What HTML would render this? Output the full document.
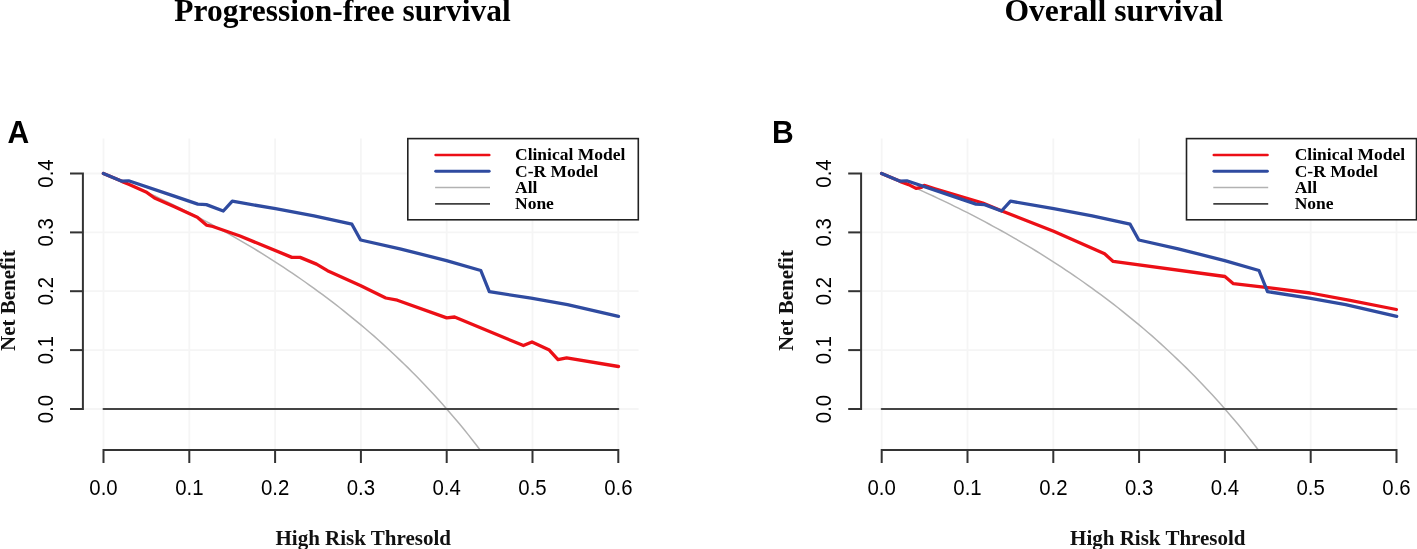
<!DOCTYPE html>
<html><head><meta charset="utf-8"><style>
html,body{margin:0;padding:0;background:#fff;}
body{width:1417px;height:549px;overflow:hidden;}
svg{display:block;}
text{-webkit-font-smoothing:antialiased;}
svg{will-change:transform;}
</style></head><body>
<svg width="1417" height="549" viewBox="0 0 1417 549">
<rect width="1417" height="549" fill="#fff"/>
<g stroke="#f5f5f5" stroke-width="1.8"><line x1="82.9" y1="409.0" x2="638.6" y2="409.0"/><line x1="82.9" y1="350.1" x2="638.6" y2="350.1"/><line x1="82.9" y1="291.2" x2="638.6" y2="291.2"/><line x1="82.9" y1="232.4" x2="638.6" y2="232.4"/><line x1="82.9" y1="173.5" x2="638.6" y2="173.5"/><line x1="103.5" y1="138.6" x2="103.5" y2="450.0"/><line x1="189.3" y1="138.6" x2="189.3" y2="450.0"/><line x1="275.1" y1="138.6" x2="275.1" y2="450.0"/><line x1="360.9" y1="138.6" x2="360.9" y2="450.0"/><line x1="446.7" y1="138.6" x2="446.7" y2="450.0"/><line x1="532.5" y1="138.6" x2="532.5" y2="450.0"/><line x1="618.3" y1="138.6" x2="618.3" y2="450.0"/></g>
<clipPath id="c0"><rect x="82.9" y="138.6" width="555.7" height="311.4"/></clipPath>
<g clip-path="url(#c0)" fill="none" stroke-linejoin="round" stroke-linecap="round">
<polyline points="103.5,173.5 107.8,175.3 112.1,177.1 116.4,178.9 120.7,180.7 125.0,182.6 129.2,184.4 133.5,186.3 137.8,188.2 142.1,190.1 146.4,192.1 150.7,194.1 155.0,196.0 159.3,198.1 163.6,200.1 167.8,202.1 172.1,204.2 176.4,206.3 180.7,208.4 185.0,210.6 189.3,212.7 193.6,214.9 197.9,217.2 202.2,219.4 206.5,221.7 210.8,224.0 215.0,226.3 219.3,228.6 223.6,231.0 227.9,233.4 232.2,235.8 236.5,238.3 240.8,240.8 245.1,243.3 249.4,245.9 253.7,248.4 257.9,251.0 262.2,253.7 266.5,256.4 270.8,259.1 275.1,261.8 279.4,264.6 283.7,267.4 288.0,270.3 292.3,273.1 296.6,276.1 300.8,279.0 305.1,282.0 309.4,285.1 313.7,288.1 318.0,291.3 322.3,294.4 326.6,297.6 330.9,300.9 335.2,304.2 339.5,307.5 343.7,310.9 348.0,314.3 352.3,317.8 356.6,321.3 360.9,324.9 365.2,328.5 369.5,332.2 373.8,335.9 378.1,339.7 382.4,343.6 386.6,347.5 390.9,351.5 395.2,355.5 399.5,359.6 403.8,363.7 408.1,367.9 412.4,372.2 416.7,376.5 421.0,381.0 425.3,385.5 429.5,390.0 433.8,394.6 438.1,399.3 442.4,404.1 446.7,409.0 451.0,413.9 455.3,419.0 459.6,424.1 463.9,429.3 468.2,434.6 472.4,440.0 476.7,445.5 481.0,451.1" stroke="#b2b2b2" stroke-width="1.5"/>
<line x1="103.5" y1="409.0" x2="618.3" y2="409.0" stroke="#444" stroke-width="2"/>
<polyline points="103.4,173.5 121.3,181.1 122.3,181.6 128.7,184.2 146.0,191.9 154.5,198.0 175.0,206.9 197.3,217.3 206.4,225.1 212.8,226.5 240.0,236.0 291.9,257.4 300.1,257.4 316.5,264.1 327.5,270.7 360.3,285.6 385.8,298.0 397.3,300.2 446.7,317.9 454.6,317.0 523.4,345.6 532.0,341.9 549.3,350.1 558.0,359.6 566.6,357.9 618.5,366.5" stroke="#ec0f16" stroke-width="3.3"/>
<polyline points="103.4,173.5 121.3,181.1 128.6,180.8 175.0,196.4 197.8,204.1 206.4,204.6 223.3,211.0 232.3,201.2 275.5,208.7 314.0,215.9 351.9,224.2 360.6,240.0 400.0,248.8 446.5,260.6 480.8,270.5 489.3,291.6 531.1,298.2 567.5,304.6 618.5,316.4" stroke="#2f4ba0" stroke-width="3.3"/>
</g>
<g stroke="#333" stroke-width="2" fill="none" stroke-linecap="butt">
<polyline points="70.0,173.5 82.9,173.5 82.9,409.0 70.0,409.0"/>
<line x1="70.0" y1="350.1" x2="82.9" y2="350.1"/>
<line x1="70.0" y1="291.2" x2="82.9" y2="291.2"/>
<line x1="70.0" y1="232.4" x2="82.9" y2="232.4"/>
<polyline points="103.5,463 103.5,450.0 618.3,450.0 618.3,463"/>
<line x1="189.3" y1="450.0" x2="189.3" y2="463"/>
<line x1="275.1" y1="450.0" x2="275.1" y2="463"/>
<line x1="360.9" y1="450.0" x2="360.9" y2="463"/>
<line x1="446.7" y1="450.0" x2="446.7" y2="463"/>
<line x1="532.5" y1="450.0" x2="532.5" y2="463"/>
</g>
<g font-family="Liberation Sans, sans-serif" font-size="23" fill="#000" text-anchor="middle">
<text transform="translate(103.5,495.2) scale(0.887,1)">0.0</text>
<text transform="translate(189.3,495.2) scale(0.887,1)">0.1</text>
<text transform="translate(275.1,495.2) scale(0.887,1)">0.2</text>
<text transform="translate(360.9,495.2) scale(0.887,1)">0.3</text>
<text transform="translate(446.7,495.2) scale(0.887,1)">0.4</text>
<text transform="translate(532.5,495.2) scale(0.887,1)">0.5</text>
<text transform="translate(618.3,495.2) scale(0.887,1)">0.6</text>
<text transform="translate(52.8,409.0) rotate(-90) scale(0.887,1)">0.0</text>
<text transform="translate(52.8,350.1) rotate(-90) scale(0.887,1)">0.1</text>
<text transform="translate(52.8,291.2) rotate(-90) scale(0.887,1)">0.2</text>
<text transform="translate(52.8,232.4) rotate(-90) scale(0.887,1)">0.3</text>
<text transform="translate(52.8,173.5) rotate(-90) scale(0.887,1)">0.4</text>
</g>
<g font-family="Liberation Serif, serif" font-weight="bold" font-size="21" fill="#111">
<text x="275.5" y="544.5">High Risk Thresold</text>
<text transform="translate(14.8,351.0) rotate(-90)">Net Benefit</text>
</g>
<text x="174.3" y="20.8" font-family="Liberation Serif, serif" font-weight="bold" font-size="31.5" fill="#000" textLength="336.5" lengthAdjust="spacingAndGlyphs">Progression-free survival</text>
<text transform="translate(7.5,142.5) scale(0.955,1)" font-family="Liberation Sans, sans-serif" font-weight="bold" font-size="31.5" fill="#000">A</text>
<rect x="407.8" y="138.6" width="230.5" height="81.2" fill="#fff" stroke="#222" stroke-width="1.6"/>
<line x1="435.6" y1="155" x2="489.3" y2="155" stroke="#ec0f16" stroke-width="2.6" stroke-linecap="round"/>
<line x1="435.7" y1="171.2" x2="489.2" y2="171.2" stroke="#2f4ba0" stroke-width="2.9" stroke-linecap="round"/>
<line x1="435.1" y1="187.5" x2="490.0" y2="187.5" stroke="#b2b2b2" stroke-width="1.4"/>
<line x1="435.1" y1="203.8" x2="490.0" y2="203.8" stroke="#404040" stroke-width="1.8"/>
<g font-family="Liberation Serif, serif" font-weight="bold" font-size="17.5" fill="#000">
<text x="515.0" y="160.1">Clinical Model</text>
<text x="515.0" y="176.5">C-R Model</text>
<text x="515.0" y="192.9">All</text>
<text x="515.0" y="209.3">None</text>
</g>
<g stroke="#f5f5f5" stroke-width="1.8"><line x1="861.1" y1="409.0" x2="1416.8" y2="409.0"/><line x1="861.1" y1="350.1" x2="1416.8" y2="350.1"/><line x1="861.1" y1="291.2" x2="1416.8" y2="291.2"/><line x1="861.1" y1="232.4" x2="1416.8" y2="232.4"/><line x1="861.1" y1="173.5" x2="1416.8" y2="173.5"/><line x1="881.7" y1="138.6" x2="881.7" y2="450.0"/><line x1="967.5" y1="138.6" x2="967.5" y2="450.0"/><line x1="1053.3" y1="138.6" x2="1053.3" y2="450.0"/><line x1="1139.1" y1="138.6" x2="1139.1" y2="450.0"/><line x1="1224.9" y1="138.6" x2="1224.9" y2="450.0"/><line x1="1310.7" y1="138.6" x2="1310.7" y2="450.0"/><line x1="1396.5" y1="138.6" x2="1396.5" y2="450.0"/></g>
<clipPath id="c778"><rect x="861.1" y="138.6" width="555.7" height="311.4"/></clipPath>
<g clip-path="url(#c778)" fill="none" stroke-linejoin="round" stroke-linecap="round">
<polyline points="881.7,173.5 886.0,175.3 890.3,177.1 894.6,178.9 898.9,180.7 903.2,182.6 907.4,184.4 911.7,186.3 916.0,188.2 920.3,190.1 924.6,192.1 928.9,194.1 933.2,196.0 937.5,198.1 941.8,200.1 946.1,202.1 950.3,204.2 954.6,206.3 958.9,208.4 963.2,210.6 967.5,212.7 971.8,214.9 976.1,217.2 980.4,219.4 984.7,221.7 989.0,224.0 993.2,226.3 997.5,228.6 1001.8,231.0 1006.1,233.4 1010.4,235.8 1014.7,238.3 1019.0,240.8 1023.3,243.3 1027.6,245.9 1031.9,248.4 1036.1,251.0 1040.4,253.7 1044.7,256.4 1049.0,259.1 1053.3,261.8 1057.6,264.6 1061.9,267.4 1066.2,270.3 1070.5,273.1 1074.8,276.1 1079.0,279.0 1083.3,282.0 1087.6,285.1 1091.9,288.1 1096.2,291.3 1100.5,294.4 1104.8,297.6 1109.1,300.9 1113.4,304.2 1117.7,307.5 1121.9,310.9 1126.2,314.3 1130.5,317.8 1134.8,321.3 1139.1,324.9 1143.4,328.5 1147.7,332.2 1152.0,335.9 1156.3,339.7 1160.6,343.6 1164.8,347.5 1169.1,351.5 1173.4,355.5 1177.7,359.6 1182.0,363.7 1186.3,367.9 1190.6,372.2 1194.9,376.5 1199.2,381.0 1203.5,385.5 1207.7,390.0 1212.0,394.6 1216.3,399.3 1220.6,404.1 1224.9,409.0 1229.2,413.9 1233.5,419.0 1237.8,424.1 1242.1,429.3 1246.4,434.6 1250.6,440.0 1254.9,445.5 1259.2,451.1" stroke="#b2b2b2" stroke-width="1.5"/>
<line x1="881.7" y1="409.0" x2="1396.5" y2="409.0" stroke="#444" stroke-width="2"/>
<polyline points="881.6,173.5 899.5,181.1 900.5,181.6 908.7,184.6 916.0,188.4 921.4,187.3 924.2,185.3 935.0,188.7 982.8,203.0 1002.0,211.0 1053.6,231.3 1104.6,253.8 1113.2,261.4 1224.9,276.5 1233.4,283.7 1270.0,287.9 1310.3,293.0 1350.0,300.3 1396.4,309.5" stroke="#ec0f16" stroke-width="3.3"/>
<polyline points="881.6,173.5 899.5,181.1 906.8,180.8 953.2,196.4 976.0,204.1 984.6,204.6 1001.5,211.0 1010.5,201.2 1053.7,208.7 1092.2,215.9 1130.1,224.2 1138.8,240.0 1178.2,248.8 1224.7,260.6 1259.0,270.5 1267.5,291.6 1309.3,298.2 1345.7,304.6 1396.7,316.4" stroke="#2f4ba0" stroke-width="3.3"/>
</g>
<g stroke="#333" stroke-width="2" fill="none" stroke-linecap="butt">
<polyline points="848.2,173.5 861.1,173.5 861.1,409.0 848.2,409.0"/>
<line x1="848.2" y1="350.1" x2="861.1" y2="350.1"/>
<line x1="848.2" y1="291.2" x2="861.1" y2="291.2"/>
<line x1="848.2" y1="232.4" x2="861.1" y2="232.4"/>
<polyline points="881.7,463 881.7,450.0 1396.5,450.0 1396.5,463"/>
<line x1="967.5" y1="450.0" x2="967.5" y2="463"/>
<line x1="1053.3" y1="450.0" x2="1053.3" y2="463"/>
<line x1="1139.1" y1="450.0" x2="1139.1" y2="463"/>
<line x1="1224.9" y1="450.0" x2="1224.9" y2="463"/>
<line x1="1310.7" y1="450.0" x2="1310.7" y2="463"/>
</g>
<g font-family="Liberation Sans, sans-serif" font-size="23" fill="#000" text-anchor="middle">
<text transform="translate(881.7,495.2) scale(0.887,1)">0.0</text>
<text transform="translate(967.5,495.2) scale(0.887,1)">0.1</text>
<text transform="translate(1053.3,495.2) scale(0.887,1)">0.2</text>
<text transform="translate(1139.1,495.2) scale(0.887,1)">0.3</text>
<text transform="translate(1224.9,495.2) scale(0.887,1)">0.4</text>
<text transform="translate(1310.7,495.2) scale(0.887,1)">0.5</text>
<text transform="translate(1396.5,495.2) scale(0.887,1)">0.6</text>
<text transform="translate(831.0,409.0) rotate(-90) scale(0.887,1)">0.0</text>
<text transform="translate(831.0,350.1) rotate(-90) scale(0.887,1)">0.1</text>
<text transform="translate(831.0,291.2) rotate(-90) scale(0.887,1)">0.2</text>
<text transform="translate(831.0,232.4) rotate(-90) scale(0.887,1)">0.3</text>
<text transform="translate(831.0,173.5) rotate(-90) scale(0.887,1)">0.4</text>
</g>
<g font-family="Liberation Serif, serif" font-weight="bold" font-size="21" fill="#111">
<text x="1070.1" y="544.5">High Risk Thresold</text>
<text transform="translate(792.7,351.0) rotate(-90)">Net Benefit</text>
</g>
<text x="1004.5" y="20.8" font-family="Liberation Serif, serif" font-weight="bold" font-size="31.5" fill="#000" textLength="218.5" lengthAdjust="spacingAndGlyphs">Overall survival</text>
<text transform="translate(772.0,142.5) scale(0.955,1)" font-family="Liberation Sans, sans-serif" font-weight="bold" font-size="31.5" fill="#000">B</text>
<rect x="1186.5" y="138.6" width="230.0" height="81.2" fill="#fff" stroke="#222" stroke-width="1.6"/>
<line x1="1213.8" y1="155" x2="1267.5" y2="155" stroke="#ec0f16" stroke-width="2.6" stroke-linecap="round"/>
<line x1="1213.9" y1="171.2" x2="1267.4" y2="171.2" stroke="#2f4ba0" stroke-width="2.9" stroke-linecap="round"/>
<line x1="1213.3" y1="187.5" x2="1268.2" y2="187.5" stroke="#b2b2b2" stroke-width="1.4"/>
<line x1="1213.3" y1="203.8" x2="1268.2" y2="203.8" stroke="#404040" stroke-width="1.8"/>
<g font-family="Liberation Serif, serif" font-weight="bold" font-size="17.5" fill="#000">
<text x="1294.7" y="160.1">Clinical Model</text>
<text x="1294.7" y="176.5">C-R Model</text>
<text x="1294.7" y="192.9">All</text>
<text x="1294.7" y="209.3">None</text>
</g>
</svg>
</body></html>
